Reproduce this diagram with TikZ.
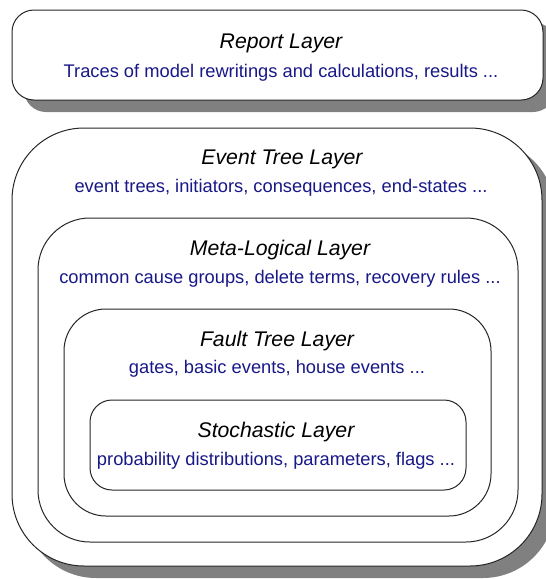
\documentclass[tikz,border=0pt]{standalone}
\usepackage{fontspec}
\setmainfont{Liberation Sans}
\usepackage{xcolor}
\usepackage{tikz}
\definecolor{descblue}{RGB}{24,24,136}

\begin{document}
\begin{tikzpicture}[x=0.5pt, y=-0.5pt,
    layerbox/.style={draw=black!85, line width=0.5pt, fill=white},
    shadowbox/.style={fill=black!50, draw=none},
    title/.style={anchor=base, inner sep=0pt, font=\fontsize{10.6}{12}\selectfont\itshape},
    desc/.style={anchor=base, inner sep=0pt, text=descblue, font=\fontsize{9.15}{11}\selectfont}]
    \useasboundingbox (0,0) rectangle (546,579);
    \clip (0,0) rectangle (546,579);

    % Report layer (with shadow)
    \fill[shadowbox, rounded corners=11pt] (24,22) rectangle (555,112);
    \draw[layerbox, rounded corners=11pt] (12,10) rectangle (543,100);
    \node[title] (reportT) at (281,48) {Report Layer};
    \node[desc] (reportD) at (281,77) {Traces of model rewritings and calculations, results ...};

    % Event tree layer (with shadow)
    \fill[shadowbox, rounded corners=36pt] (24,140) rectangle (555,578);
    \draw[layerbox, rounded corners=36pt] (12,128) rectangle (542,566);
    \node[title] (eventT) at (282,164) {Event Tree Layer};
    \node[desc] (eventD) at (281,192) {event trees, initiators, consequences, end-states ...};

    % Meta-logical layer
    \draw[layerbox, rounded corners=26pt] (38,218) rectangle (518,542);
    \node[title] (metaT) at (280,255) {Meta-Logical Layer};
    \node[desc] (metaD) at (280,283) {common cause groups, delete terms, recovery rules ...};

    % Fault tree layer
    \draw[layerbox, rounded corners=21pt] (64,309) rectangle (491,516);
    \node[title] (faultT) at (277,346) {Fault Tree Layer};
    \node[desc] (faultD) at (277,373) {gates, basic events, house events ...};

    % Stochastic layer
    \draw[layerbox, rounded corners=11pt] (90,400) rectangle (466,490);
    \node[title] (stochT) at (276,437) {Stochastic Layer};
    \node[desc] (stochD) at (276,465) {probability distributions, parameters, flags ...};
\end{tikzpicture}
\end{document}
